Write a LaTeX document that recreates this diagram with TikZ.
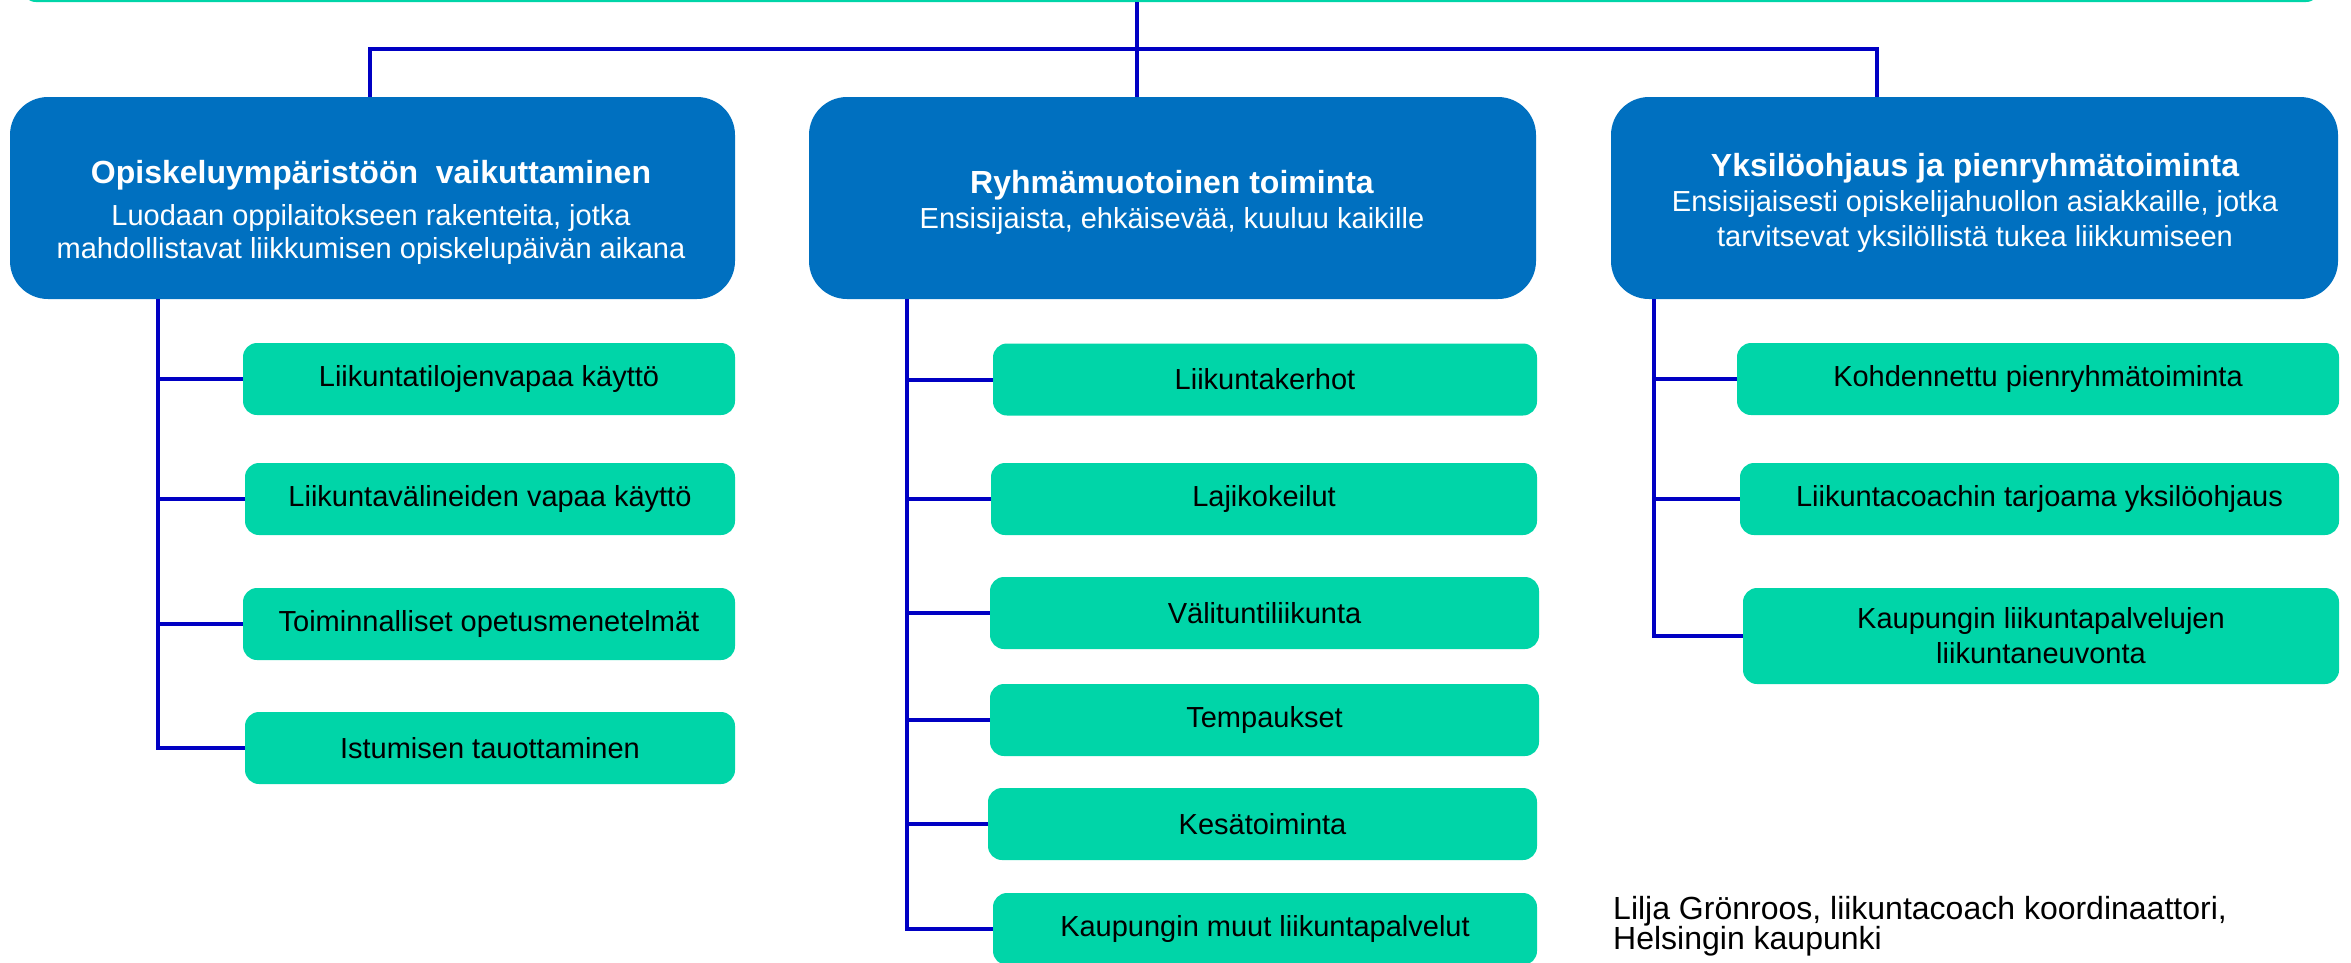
\documentclass[tikz,border=0pt]{standalone}
\usepackage{fontspec}
\setmainfont{Liberation Sans}
\definecolor{boxblue}{RGB}{0,112,192}
\definecolor{boxgreen}{RGB}{0,213,168}
\definecolor{lineblue}{RGB}{0,0,195}
\begin{document}
\begin{tikzpicture}[x=1pt,y=-1pt,
  bluebox/.style={fill=boxblue, rounded corners=38pt, inner sep=0pt, minimum height=202pt},
  greenbox/.style={fill=boxgreen, rounded corners=14pt, inner sep=0pt, minimum height=72pt,
     text=black, font=\fontsize{29}{35}\selectfont, align=center},
  titletxt/.style={text=white, font=\fontsize{32}{38}\selectfont\bfseries, anchor=base, inner sep=0pt},
  subtxt/.style={text=white, font=\fontsize{29}{34}\selectfont, anchor=base, inner sep=0pt},
  foottxt/.style={text=black, font=\fontsize{32}{36}\selectfont, anchor=base west, inner sep=0pt},
  conn/.style={draw=lineblue, line width=4pt}]
\useasboundingbox (0,0) rectangle (2351,962);
\clip (0,0) rectangle (2351,962);

% top (cut-off) box
\node[fill=boxgreen, rounded corners=14pt, inner sep=0pt, minimum width=2298pt, minimum height=102pt] (topbox) at (1171,-49) {};

% blue boxes
\node[bluebox, minimum width=725pt] (b1) at (372.5,198) {};
\node[bluebox, minimum width=727pt] (b2) at (1172.5,198) {};
\node[bluebox, minimum width=727pt] (b3) at (1974.5,198) {};

% connector coordinates
\coordinate (topc) at (1137,0);
\coordinate (hl) at (370,48.5);
\coordinate (hr) at (1877,48.5);
\coordinate (t1) at (157.5,299);
\coordinate (t2) at (907,299);
\coordinate (t3) at (1654,299);

% green boxes left
\node[greenbox, minimum width=492pt] (l1) at (489,379) {Liikuntatilojenvapaa käyttö};
\node[greenbox, minimum width=490pt] (l2) at (490,499) {Liikuntavälineiden vapaa käyttö};
\node[greenbox, minimum width=492pt] (l3) at (489,624) {Toiminnalliset opetusmenetelmät};
\node[greenbox, minimum width=490pt] (l4) at (490,748) {Istumisen tauottaminen};

% green boxes middle
\node[greenbox, minimum width=544pt] (m1) at (1265,379.5) {Liikuntakerhot};
\node[greenbox, minimum width=546pt] (m2) at (1264,499) {Lajikokeilut};
\node[greenbox, minimum width=549pt] (m3) at (1264.5,613) {Välituntiliikunta};
\node[greenbox, minimum width=549pt] (m4) at (1264.5,720) {Tempaukset};
\node[greenbox, minimum width=549pt] (m5) at (1262.5,824) {Kesätoiminta};
\node[greenbox, minimum width=544pt] (m6) at (1265,929) {Kaupungin muut liikuntapalvelut};

% green boxes right
\node[greenbox, minimum width=602pt] (r1) at (2038,379) {Kohdennettu pienryhmätoiminta};
\node[greenbox, minimum width=599pt] (r2) at (2039.5,499) {Liikuntacoachin tarjoama yksilöohjaus};
\node[greenbox, minimum width=596pt, minimum height=96pt] (r3) at (2041,636) {Kaupungin liikuntapalvelujen\\liikuntaneuvonta};

% connectors
\draw[conn] (topc |- topbox.south) -- (topc |- b2.north);
\draw[conn] (hl |- b1.north) |- (hr) -- (hr |- b3.north);

\draw[conn] (t1) |- (l4.west);
\draw[conn] (t1 |- l1.west) -- (l1.west);
\draw[conn] (t1 |- l2.west) -- (l2.west);
\draw[conn] (t1 |- l3.west) -- (l3.west);

\draw[conn] (t2) |- (m6.west);
\draw[conn] (t2 |- m1.west) -- (m1.west);
\draw[conn] (t2 |- m2.west) -- (m2.west);
\draw[conn] (t2 |- m3.west) -- (m3.west);
\draw[conn] (t2 |- m4.west) -- (m4.west);
\draw[conn] (t2 |- m5.west) -- (m5.west);

\draw[conn] (t3) |- (r3.west);
\draw[conn] (t3 |- r1.west) -- (r1.west);
\draw[conn] (t3 |- r2.west) -- (r2.west);

% blue box texts
\node[titletxt] (b1title) at (371,183) {Opiskeluympäristöön\ \ vaikuttaminen};
\node[subtxt] (b1sub1) at (371,225) {Luodaan oppilaitokseen rakenteita, jotka};
\node[subtxt] (b1sub2) at (371,258) {mahdollistavat liikkumisen opiskelupäivän aikana};

\node[titletxt] (b2title) at (1172,193) {Ryhmämuotoinen toiminta};
\node[subtxt] (b2sub1) at (1172,228) {Ensisijaista, ehkäisevää, kuuluu kaikille};

\node[titletxt] (b3title) at (1975,176) {Yksilöohjaus ja pienryhmätoiminta};
\node[subtxt] (b3sub1) at (1975,211.5) {Ensisijaisesti opiskelijahuollon asiakkaille, jotka};
\node[subtxt] (b3sub2) at (1975,246.5) {tarvitsevat yksilöllistä tukea liikkumiseen};

% footer
\node[foottxt] (foot1) at (1613,919) {Lilja Grönroos, liikuntacoach koordinaattori,};
\node[foottxt] (foot2) at (1613,949) {Helsingin kaupunki};
\end{tikzpicture}
\end{document}
